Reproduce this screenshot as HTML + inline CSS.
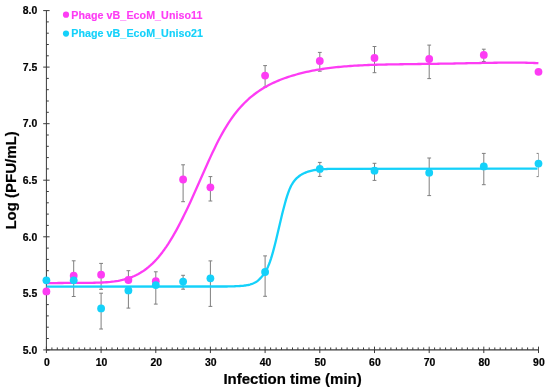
<!DOCTYPE html>
<html><head><meta charset="utf-8"><title>Phage growth curves</title>
<style>html,body{margin:0;padding:0;background:#fff}svg{display:block;will-change:transform}text{font-family:"Liberation Sans",sans-serif}</style></head>
<body>
<svg width="550" height="391" viewBox="0 0 550 391">
<rect width="550" height="391" fill="#fff"/>
<g stroke="#3a3a3a" stroke-width="1" fill="none" shape-rendering="auto">
<line x1="46.4" y1="10.6" x2="46.4" y2="349.85"/>
<line x1="46.4" y1="349.85" x2="538.5" y2="349.85" stroke-width="1.25"/>
<line x1="43.2" y1="349.9" x2="49.6" y2="349.9"/>
<line x1="46.4" y1="338.5" x2="48.8" y2="338.5"/>
<line x1="46.4" y1="327.2" x2="48.8" y2="327.2"/>
<line x1="46.4" y1="315.9" x2="48.8" y2="315.9"/>
<line x1="46.4" y1="304.6" x2="48.8" y2="304.6"/>
<line x1="43.2" y1="293.3" x2="49.6" y2="293.3"/>
<line x1="46.4" y1="282.0" x2="48.8" y2="282.0"/>
<line x1="46.4" y1="270.7" x2="48.8" y2="270.7"/>
<line x1="46.4" y1="259.4" x2="48.8" y2="259.4"/>
<line x1="46.4" y1="248.1" x2="48.8" y2="248.1"/>
<line x1="43.2" y1="236.8" x2="49.6" y2="236.8"/>
<line x1="46.4" y1="225.4" x2="48.8" y2="225.4"/>
<line x1="46.4" y1="214.1" x2="48.8" y2="214.1"/>
<line x1="46.4" y1="202.8" x2="48.8" y2="202.8"/>
<line x1="46.4" y1="191.5" x2="48.8" y2="191.5"/>
<line x1="43.2" y1="180.2" x2="49.6" y2="180.2"/>
<line x1="46.4" y1="168.9" x2="48.8" y2="168.9"/>
<line x1="46.4" y1="157.6" x2="48.8" y2="157.6"/>
<line x1="46.4" y1="146.3" x2="48.8" y2="146.3"/>
<line x1="46.4" y1="135.0" x2="48.8" y2="135.0"/>
<line x1="43.2" y1="123.7" x2="49.6" y2="123.7"/>
<line x1="46.4" y1="112.3" x2="48.8" y2="112.3"/>
<line x1="46.4" y1="101.0" x2="48.8" y2="101.0"/>
<line x1="46.4" y1="89.7" x2="48.8" y2="89.7"/>
<line x1="46.4" y1="78.4" x2="48.8" y2="78.4"/>
<line x1="43.2" y1="67.1" x2="49.6" y2="67.1"/>
<line x1="46.4" y1="55.8" x2="48.8" y2="55.8"/>
<line x1="46.4" y1="44.5" x2="48.8" y2="44.5"/>
<line x1="46.4" y1="33.2" x2="48.8" y2="33.2"/>
<line x1="46.4" y1="21.9" x2="48.8" y2="21.9"/>
<line x1="43.2" y1="10.6" x2="49.6" y2="10.6"/>
<line x1="46.4" y1="346.65" x2="46.4" y2="353.05"/>
<line x1="51.9" y1="349.85" x2="51.9" y2="347.45"/>
<line x1="57.3" y1="349.85" x2="57.3" y2="347.45"/>
<line x1="62.8" y1="349.85" x2="62.8" y2="347.45"/>
<line x1="68.3" y1="349.85" x2="68.3" y2="347.45"/>
<line x1="73.7" y1="349.85" x2="73.7" y2="347.45"/>
<line x1="79.2" y1="349.85" x2="79.2" y2="347.45"/>
<line x1="84.7" y1="349.85" x2="84.7" y2="347.45"/>
<line x1="90.1" y1="349.85" x2="90.1" y2="347.45"/>
<line x1="95.6" y1="349.85" x2="95.6" y2="347.45"/>
<line x1="101.1" y1="346.65" x2="101.1" y2="353.05"/>
<line x1="106.5" y1="349.85" x2="106.5" y2="347.45"/>
<line x1="112.0" y1="349.85" x2="112.0" y2="347.45"/>
<line x1="117.5" y1="349.85" x2="117.5" y2="347.45"/>
<line x1="123.0" y1="349.85" x2="123.0" y2="347.45"/>
<line x1="128.4" y1="349.85" x2="128.4" y2="347.45"/>
<line x1="133.9" y1="349.85" x2="133.9" y2="347.45"/>
<line x1="139.4" y1="349.85" x2="139.4" y2="347.45"/>
<line x1="144.8" y1="349.85" x2="144.8" y2="347.45"/>
<line x1="150.3" y1="349.85" x2="150.3" y2="347.45"/>
<line x1="155.8" y1="346.65" x2="155.8" y2="353.05"/>
<line x1="161.2" y1="349.85" x2="161.2" y2="347.45"/>
<line x1="166.7" y1="349.85" x2="166.7" y2="347.45"/>
<line x1="172.2" y1="349.85" x2="172.2" y2="347.45"/>
<line x1="177.6" y1="349.85" x2="177.6" y2="347.45"/>
<line x1="183.1" y1="349.85" x2="183.1" y2="347.45"/>
<line x1="188.6" y1="349.85" x2="188.6" y2="347.45"/>
<line x1="194.0" y1="349.85" x2="194.0" y2="347.45"/>
<line x1="199.5" y1="349.85" x2="199.5" y2="347.45"/>
<line x1="205.0" y1="349.85" x2="205.0" y2="347.45"/>
<line x1="210.4" y1="346.65" x2="210.4" y2="353.05"/>
<line x1="215.9" y1="349.85" x2="215.9" y2="347.45"/>
<line x1="221.4" y1="349.85" x2="221.4" y2="347.45"/>
<line x1="226.8" y1="349.85" x2="226.8" y2="347.45"/>
<line x1="232.3" y1="349.85" x2="232.3" y2="347.45"/>
<line x1="237.8" y1="349.85" x2="237.8" y2="347.45"/>
<line x1="243.2" y1="349.85" x2="243.2" y2="347.45"/>
<line x1="248.7" y1="349.85" x2="248.7" y2="347.45"/>
<line x1="254.2" y1="349.85" x2="254.2" y2="347.45"/>
<line x1="259.7" y1="349.85" x2="259.7" y2="347.45"/>
<line x1="265.1" y1="346.65" x2="265.1" y2="353.05"/>
<line x1="270.6" y1="349.85" x2="270.6" y2="347.45"/>
<line x1="276.1" y1="349.85" x2="276.1" y2="347.45"/>
<line x1="281.5" y1="349.85" x2="281.5" y2="347.45"/>
<line x1="287.0" y1="349.85" x2="287.0" y2="347.45"/>
<line x1="292.5" y1="349.85" x2="292.5" y2="347.45"/>
<line x1="297.9" y1="349.85" x2="297.9" y2="347.45"/>
<line x1="303.4" y1="349.85" x2="303.4" y2="347.45"/>
<line x1="308.9" y1="349.85" x2="308.9" y2="347.45"/>
<line x1="314.3" y1="349.85" x2="314.3" y2="347.45"/>
<line x1="319.8" y1="346.65" x2="319.8" y2="353.05"/>
<line x1="325.3" y1="349.85" x2="325.3" y2="347.45"/>
<line x1="330.7" y1="349.85" x2="330.7" y2="347.45"/>
<line x1="336.2" y1="349.85" x2="336.2" y2="347.45"/>
<line x1="341.7" y1="349.85" x2="341.7" y2="347.45"/>
<line x1="347.1" y1="349.85" x2="347.1" y2="347.45"/>
<line x1="352.6" y1="349.85" x2="352.6" y2="347.45"/>
<line x1="358.1" y1="349.85" x2="358.1" y2="347.45"/>
<line x1="363.5" y1="349.85" x2="363.5" y2="347.45"/>
<line x1="369.0" y1="349.85" x2="369.0" y2="347.45"/>
<line x1="374.5" y1="346.65" x2="374.5" y2="353.05"/>
<line x1="379.9" y1="349.85" x2="379.9" y2="347.45"/>
<line x1="385.4" y1="349.85" x2="385.4" y2="347.45"/>
<line x1="390.9" y1="349.85" x2="390.9" y2="347.45"/>
<line x1="396.4" y1="349.85" x2="396.4" y2="347.45"/>
<line x1="401.8" y1="349.85" x2="401.8" y2="347.45"/>
<line x1="407.3" y1="349.85" x2="407.3" y2="347.45"/>
<line x1="412.8" y1="349.85" x2="412.8" y2="347.45"/>
<line x1="418.2" y1="349.85" x2="418.2" y2="347.45"/>
<line x1="423.7" y1="349.85" x2="423.7" y2="347.45"/>
<line x1="429.2" y1="346.65" x2="429.2" y2="353.05"/>
<line x1="434.6" y1="349.85" x2="434.6" y2="347.45"/>
<line x1="440.1" y1="349.85" x2="440.1" y2="347.45"/>
<line x1="445.6" y1="349.85" x2="445.6" y2="347.45"/>
<line x1="451.0" y1="349.85" x2="451.0" y2="347.45"/>
<line x1="456.5" y1="349.85" x2="456.5" y2="347.45"/>
<line x1="462.0" y1="349.85" x2="462.0" y2="347.45"/>
<line x1="467.4" y1="349.85" x2="467.4" y2="347.45"/>
<line x1="472.9" y1="349.85" x2="472.9" y2="347.45"/>
<line x1="478.4" y1="349.85" x2="478.4" y2="347.45"/>
<line x1="483.8" y1="346.65" x2="483.8" y2="353.05"/>
<line x1="489.3" y1="349.85" x2="489.3" y2="347.45"/>
<line x1="494.8" y1="349.85" x2="494.8" y2="347.45"/>
<line x1="500.2" y1="349.85" x2="500.2" y2="347.45"/>
<line x1="505.7" y1="349.85" x2="505.7" y2="347.45"/>
<line x1="511.2" y1="349.85" x2="511.2" y2="347.45"/>
<line x1="516.6" y1="349.85" x2="516.6" y2="347.45"/>
<line x1="522.1" y1="349.85" x2="522.1" y2="347.45"/>
<line x1="527.6" y1="349.85" x2="527.6" y2="347.45"/>
<line x1="533.1" y1="349.85" x2="533.1" y2="347.45"/>
<line x1="538.5" y1="346.65" x2="538.5" y2="353.05"/>
</g>
<g font-weight="bold" font-size="10.4" fill="#000" stroke="#000" stroke-width="0.2">
<text x="37.3" y="353.6" text-anchor="end">5.0</text>
<text x="37.3" y="297.1" text-anchor="end">5.5</text>
<text x="37.3" y="240.5" text-anchor="end">6.0</text>
<text x="37.3" y="184.0" text-anchor="end">6.5</text>
<text x="37.3" y="127.4" text-anchor="end">7.0</text>
<text x="37.3" y="70.9" text-anchor="end">7.5</text>
<text x="37.3" y="14.3" text-anchor="end">8.0</text>
<text x="46.8" y="366.3" text-anchor="middle">0</text>
<text x="101.5" y="366.3" text-anchor="middle">10</text>
<text x="156.2" y="366.3" text-anchor="middle">20</text>
<text x="210.8" y="366.3" text-anchor="middle">30</text>
<text x="265.5" y="366.3" text-anchor="middle">40</text>
<text x="320.2" y="366.3" text-anchor="middle">50</text>
<text x="374.9" y="366.3" text-anchor="middle">60</text>
<text x="429.6" y="366.3" text-anchor="middle">70</text>
<text x="484.2" y="366.3" text-anchor="middle">80</text>
<text x="538.9" y="366.3" text-anchor="middle">90</text>
</g>
<g stroke="#7f7f7f" stroke-width="1" fill="none">

<line x1="73.7" y1="260.8" x2="73.7" y2="296.5"/><line x1="71.8" y1="260.8" x2="75.6" y2="260.8"/><line x1="71.8" y1="296.5" x2="75.6" y2="296.5"/>
<line x1="101.1" y1="263.4" x2="101.1" y2="289.3"/><line x1="99.2" y1="263.4" x2="103.0" y2="263.4"/><line x1="99.2" y1="289.3" x2="103.0" y2="289.3"/>
<line x1="128.4" y1="270.7" x2="128.4" y2="280.0"/><line x1="126.5" y1="270.7" x2="130.3" y2="270.7"/>
<line x1="155.8" y1="271.8" x2="155.8" y2="281.2"/><line x1="153.9" y1="271.8" x2="157.7" y2="271.8"/>
<line x1="183.1" y1="164.8" x2="183.1" y2="201.7"/><line x1="181.2" y1="164.8" x2="185.0" y2="164.8"/><line x1="181.2" y1="201.7" x2="185.0" y2="201.7"/>
<line x1="210.4" y1="176.6" x2="210.4" y2="201.0"/><line x1="208.5" y1="176.6" x2="212.3" y2="176.6"/><line x1="208.5" y1="201.0" x2="212.3" y2="201.0"/>
<line x1="265.1" y1="65.6" x2="265.1" y2="87.0"/><line x1="263.2" y1="65.6" x2="267.0" y2="65.6"/><line x1="263.2" y1="87.0" x2="267.0" y2="87.0"/>
<line x1="319.8" y1="52.4" x2="319.8" y2="71.2"/><line x1="317.9" y1="52.4" x2="321.7" y2="52.4"/><line x1="317.9" y1="71.2" x2="321.7" y2="71.2"/>
<line x1="374.5" y1="46.5" x2="374.5" y2="72.7"/><line x1="372.6" y1="46.5" x2="376.4" y2="46.5"/><line x1="372.6" y1="72.7" x2="376.4" y2="72.7"/>
<line x1="429.2" y1="45.1" x2="429.2" y2="78.6"/><line x1="427.3" y1="45.1" x2="431.1" y2="45.1"/><line x1="427.3" y1="78.6" x2="431.1" y2="78.6"/>
<line x1="483.8" y1="49.2" x2="483.8" y2="61.5"/><line x1="481.9" y1="49.2" x2="485.7" y2="49.2"/><line x1="481.9" y1="61.5" x2="485.7" y2="61.5"/>



<line x1="101.1" y1="293.2" x2="101.1" y2="329.0"/><line x1="99.2" y1="293.2" x2="103.0" y2="293.2"/><line x1="99.2" y1="329.0" x2="103.0" y2="329.0"/>
<line x1="128.4" y1="290.4" x2="128.4" y2="308.1"/><line x1="126.5" y1="308.1" x2="130.3" y2="308.1"/>
<line x1="155.8" y1="285.1" x2="155.8" y2="304.1"/><line x1="153.9" y1="304.1" x2="157.7" y2="304.1"/>
<line x1="183.1" y1="275.3" x2="183.1" y2="289.2"/><line x1="181.2" y1="275.3" x2="185.0" y2="275.3"/><line x1="181.2" y1="289.2" x2="185.0" y2="289.2"/>
<line x1="210.4" y1="260.9" x2="210.4" y2="306.4"/><line x1="208.5" y1="260.9" x2="212.3" y2="260.9"/><line x1="208.5" y1="306.4" x2="212.3" y2="306.4"/>
<line x1="265.1" y1="255.9" x2="265.1" y2="296.3"/><line x1="263.2" y1="255.9" x2="267.0" y2="255.9"/><line x1="263.2" y1="296.3" x2="267.0" y2="296.3"/>
<line x1="319.8" y1="162.4" x2="319.8" y2="176.4"/><line x1="317.9" y1="162.4" x2="321.7" y2="162.4"/><line x1="317.9" y1="176.4" x2="321.7" y2="176.4"/>
<line x1="374.5" y1="163.3" x2="374.5" y2="180.4"/><line x1="372.6" y1="163.3" x2="376.4" y2="163.3"/><line x1="372.6" y1="180.4" x2="376.4" y2="180.4"/>
<line x1="429.2" y1="158.0" x2="429.2" y2="195.6"/><line x1="427.3" y1="158.0" x2="431.1" y2="158.0"/><line x1="427.3" y1="195.6" x2="431.1" y2="195.6"/>
<line x1="483.8" y1="153.4" x2="483.8" y2="184.7"/><line x1="481.9" y1="153.4" x2="485.7" y2="153.4"/><line x1="481.9" y1="184.7" x2="485.7" y2="184.7"/>
<line x1="538.5" y1="153.4" x2="538.5" y2="176.6" stroke-opacity="0.6"/><line x1="536.6" y1="153.4" x2="538.5" y2="153.4"/><line x1="536.6" y1="176.6" x2="538.5" y2="176.6"/>
</g>
<path d="M46.4,283.02 L48.4,283.04 L50.4,283.04 L52.4,283.04 L54.4,283.04 L56.4,283.03 L58.4,283.01 L60.4,283.00 L62.4,282.98 L64.4,282.96 L66.4,282.95 L68.4,282.93 L70.4,282.92 L72.4,282.91 L74.4,282.90 L76.4,282.89 L78.4,282.89 L80.4,282.88 L82.4,282.88 L84.4,282.87 L86.4,282.86 L88.4,282.85 L90.4,282.83 L92.4,282.80 L94.4,282.77 L96.4,282.72 L98.4,282.67 L100.4,282.59 L102.4,282.51 L104.4,282.40 L106.4,282.26 L108.4,282.10 L110.4,281.92 L112.4,281.69 L114.4,281.44 L116.4,281.14 L118.4,280.80 L120.4,280.41 L122.4,279.97 L124.4,279.47 L126.4,278.91 L128.4,278.28 L130.4,277.58 L132.4,276.81 L134.4,275.95 L136.4,275.01 L138.4,273.97 L140.4,272.83 L142.4,271.59 L144.4,270.24 L146.4,268.77 L148.4,267.18 L150.4,265.46 L152.4,263.60 L154.4,261.60 L156.4,259.47 L158.4,257.18 L160.4,254.75 L162.4,252.18 L164.4,249.45 L166.4,246.58 L168.4,243.57 L170.4,240.41 L172.4,237.10 L174.4,233.66 L176.4,230.09 L178.4,226.39 L180.4,222.57 L182.4,218.64 L184.4,214.59 L186.4,210.45 L188.4,206.22 L190.4,201.90 L192.4,197.52 L194.4,193.08 L196.4,188.59 L198.4,184.08 L200.4,179.54 L202.4,175.00 L204.4,170.48 L206.4,165.98 L208.4,161.53 L210.4,157.14 L212.4,152.84 L214.4,148.64 L216.4,144.56 L218.4,140.60 L220.4,136.79 L222.4,133.13 L224.4,129.63 L226.4,126.29 L228.4,123.11 L230.4,120.10 L232.4,117.24 L234.4,114.55 L236.4,111.99 L238.4,109.58 L240.4,107.28 L242.4,105.11 L244.4,103.05 L246.4,101.09 L248.4,99.24 L250.4,97.49 L252.4,95.83 L254.4,94.25 L256.4,92.76 L258.4,91.34 L260.4,90.00 L262.4,88.73 L264.4,87.52 L266.4,86.38 L268.4,85.29 L270.4,84.25 L272.4,83.27 L274.4,82.34 L276.4,81.45 L278.4,80.60 L280.4,79.79 L282.4,79.02 L284.4,78.29 L286.4,77.58 L288.4,76.91 L290.4,76.26 L292.4,75.65 L294.4,75.06 L296.4,74.49 L298.4,73.95 L300.4,73.43 L302.4,72.93 L304.4,72.45 L306.4,71.99 L308.4,71.56 L310.4,71.14 L312.4,70.74 L314.4,70.36 L316.4,69.99 L318.4,69.65 L320.4,69.32 L322.4,69.00 L324.4,68.70 L326.4,68.42 L328.4,68.15 L330.4,67.89 L332.4,67.65 L334.4,67.42 L336.4,67.20 L338.4,66.99 L340.4,66.80 L342.4,66.62 L344.4,66.44 L346.4,66.28 L348.4,66.12 L350.4,65.98 L352.4,65.84 L354.4,65.71 L356.4,65.59 L358.4,65.48 L360.4,65.38 L362.4,65.28 L364.4,65.18 L366.4,65.10 L368.4,65.02 L370.4,64.94 L372.4,64.87 L374.4,64.81 L376.4,64.75 L378.4,64.69 L380.4,64.63 L382.4,64.58 L384.4,64.54 L386.4,64.49 L388.4,64.45 L390.4,64.42 L392.4,64.38 L394.4,64.35 L396.4,64.31 L398.4,64.28 L400.4,64.25 L402.4,64.23 L404.4,64.20 L406.4,64.17 L408.4,64.15 L410.4,64.12 L412.4,64.10 L414.4,64.07 L416.4,64.05 L418.4,64.02 L420.4,64.00 L422.4,63.97 L424.4,63.95 L426.4,63.92 L428.4,63.90 L430.4,63.87 L432.4,63.84 L434.4,63.81 L436.4,63.78 L438.4,63.76 L440.4,63.72 L442.4,63.69 L444.4,63.66 L446.4,63.63 L448.4,63.59 L450.4,63.56 L452.4,63.53 L454.4,63.49 L456.4,63.45 L458.4,63.42 L460.4,63.38 L462.4,63.34 L464.4,63.30 L466.4,63.26 L468.4,63.22 L470.4,63.18 L472.4,63.14 L474.4,63.10 L476.4,63.07 L478.4,63.03 L480.4,62.99 L482.4,62.95 L484.4,62.92 L486.4,62.88 L488.4,62.85 L490.4,62.81 L492.4,62.78 L494.4,62.75 L496.4,62.73 L498.4,62.70 L500.4,62.68 L502.4,62.66 L504.4,62.65 L506.4,62.63 L508.4,62.63 L510.4,62.62 L512.4,62.62 L514.4,62.62 L516.4,62.63 L518.4,62.65 L520.4,62.67 L522.4,62.69 L524.4,62.72 L526.4,62.76 L528.4,62.80 L530.4,62.86 L532.4,62.92 L534.4,62.98 L536.4,63.06 L538.4,63.15" fill="none" stroke="#fd3cf4" stroke-width="2.3" stroke-linejoin="round"/>
<path d="M46.4,286.60 L224.0,286.50 L225.0,286.50 L226.0,286.50 L227.0,286.49 L228.0,286.47 L229.0,286.46 L230.0,286.43 L231.0,286.41 L232.0,286.38 L233.0,286.34 L234.0,286.30 L235.0,286.26 L236.0,286.22 L237.0,286.17 L238.0,286.12 L239.0,286.07 L240.0,286.02 L241.0,285.96 L242.0,285.87 L243.0,285.77 L244.0,285.65 L245.0,285.51 L246.0,285.36 L247.0,285.18 L248.0,285.00 L249.0,284.79 L250.0,284.52 L251.0,284.22 L252.0,283.87 L253.0,283.47 L254.0,283.04 L255.0,282.56 L256.0,282.03 L257.0,281.35 L258.0,280.53 L259.0,279.59 L260.0,278.60 L261.0,277.58 L262.0,276.49 L263.0,275.29 L264.0,273.98 L265.0,272.51 L266.0,270.84 L267.0,268.88 L268.0,266.67 L269.0,264.27 L270.0,261.65 L271.0,258.61 L272.0,255.30 L273.0,251.86 L274.0,248.16 L275.0,244.26 L276.0,240.18 L277.0,236.00 L278.0,231.75 L279.0,227.50 L280.0,223.19 L281.0,218.94 L282.0,214.83 L283.0,210.79 L284.0,206.92 L285.0,203.22 L286.0,199.62 L287.0,196.30 L288.0,193.38 L289.0,190.66 L290.0,188.18 L291.0,186.04 L292.0,184.27 L293.0,182.69 L294.0,181.26 L295.0,180.00 L296.0,178.89 L297.0,177.93 L298.0,177.06 L299.0,176.26 L300.0,175.53 L301.0,174.87 L302.0,174.28 L303.0,173.75 L304.0,173.27 L305.0,172.82 L306.0,172.40 L307.0,172.02 L308.0,171.67 L309.0,171.36 L310.0,171.08 L311.0,170.83 L312.0,170.59 L313.0,170.37 L314.0,170.17 L315.0,169.99 L316.0,169.84 L317.0,169.72 L318.0,169.62 L319.0,169.53 L320.0,169.44 L321.0,169.36 L322.0,169.28 L323.0,169.20 L324.0,169.14 L325.0,169.08 L326.0,169.03 L327.0,168.98 L328.0,168.95 L329.0,168.92 L330.0,168.90 L331.0,168.89 L332.0,168.87 L333.0,168.86 L334.0,168.85 L335.0,168.84 L336.0,168.83 L337.0,168.82 L338.0,168.81 L339.0,168.80 L537.5,168.70" fill="none" stroke="#14d1fa" stroke-width="2.3" stroke-linejoin="round"/>
<circle cx="46.4" cy="291.4" r="3.9" fill="#fd3cf4"/>
<circle cx="73.7" cy="275.7" r="3.9" fill="#fd3cf4"/>
<circle cx="101.1" cy="274.7" r="3.9" fill="#fd3cf4"/>
<circle cx="128.4" cy="280.0" r="3.9" fill="#fd3cf4"/>
<circle cx="155.8" cy="281.2" r="3.9" fill="#fd3cf4"/>
<circle cx="183.1" cy="179.5" r="3.9" fill="#fd3cf4"/>
<circle cx="210.4" cy="187.3" r="3.9" fill="#fd3cf4"/>
<circle cx="265.1" cy="75.6" r="3.9" fill="#fd3cf4"/>
<circle cx="319.8" cy="61.0" r="3.9" fill="#fd3cf4"/>
<circle cx="374.5" cy="58.0" r="3.9" fill="#fd3cf4"/>
<circle cx="429.2" cy="59.0" r="3.9" fill="#fd3cf4"/>
<circle cx="483.8" cy="54.9" r="3.9" fill="#fd3cf4"/>
<circle cx="538.5" cy="71.8" r="3.9" fill="#fd3cf4"/>
<circle cx="46.4" cy="280.3" r="3.9" fill="#14d1fa"/>
<circle cx="73.7" cy="280.3" r="3.9" fill="#14d1fa"/>
<circle cx="101.1" cy="308.4" r="3.9" fill="#14d1fa"/>
<circle cx="128.4" cy="290.4" r="3.9" fill="#14d1fa"/>
<circle cx="155.8" cy="285.1" r="3.9" fill="#14d1fa"/>
<circle cx="183.1" cy="281.6" r="3.9" fill="#14d1fa"/>
<circle cx="210.4" cy="278.3" r="3.9" fill="#14d1fa"/>
<circle cx="265.1" cy="272.0" r="3.9" fill="#14d1fa"/>
<circle cx="319.8" cy="168.9" r="3.9" fill="#14d1fa"/>
<circle cx="374.5" cy="170.7" r="3.9" fill="#14d1fa"/>
<circle cx="429.2" cy="172.7" r="3.9" fill="#14d1fa"/>
<circle cx="483.8" cy="166.4" r="3.9" fill="#14d1fa"/>
<circle cx="538.5" cy="163.6" r="3.9" fill="#14d1fa"/>
<circle cx="66" cy="14.7" r="3.1" fill="#fd3cf4"/>
<circle cx="66" cy="33.6" r="3.1" fill="#14d1fa"/>
<g font-weight="bold" font-size="10.7">
<text id="lg1" x="71.2" y="18.55" letter-spacing="0.06" fill="#fd3cf4" stroke="#fd3cf4" stroke-width="0.15">Phage vB_EcoM_Uniso11</text>
<text id="lg2" x="71.2" y="37.3" letter-spacing="0.06" fill="#14d1fa" stroke="#14d1fa" stroke-width="0.15">Phage vB_EcoM_Uniso21</text>
</g>
<g font-weight="bold" fill="#000" stroke="#000" stroke-width="0.2">
<text id="xl" x="292.6" y="384.4" font-size="15" text-anchor="middle">Infection time (min)</text>
<text id="yl" transform="translate(16.3,180.4) rotate(-90)" font-size="15" text-anchor="middle">Log (PFU/mL)</text>
</g>
</svg>
</body></html>
